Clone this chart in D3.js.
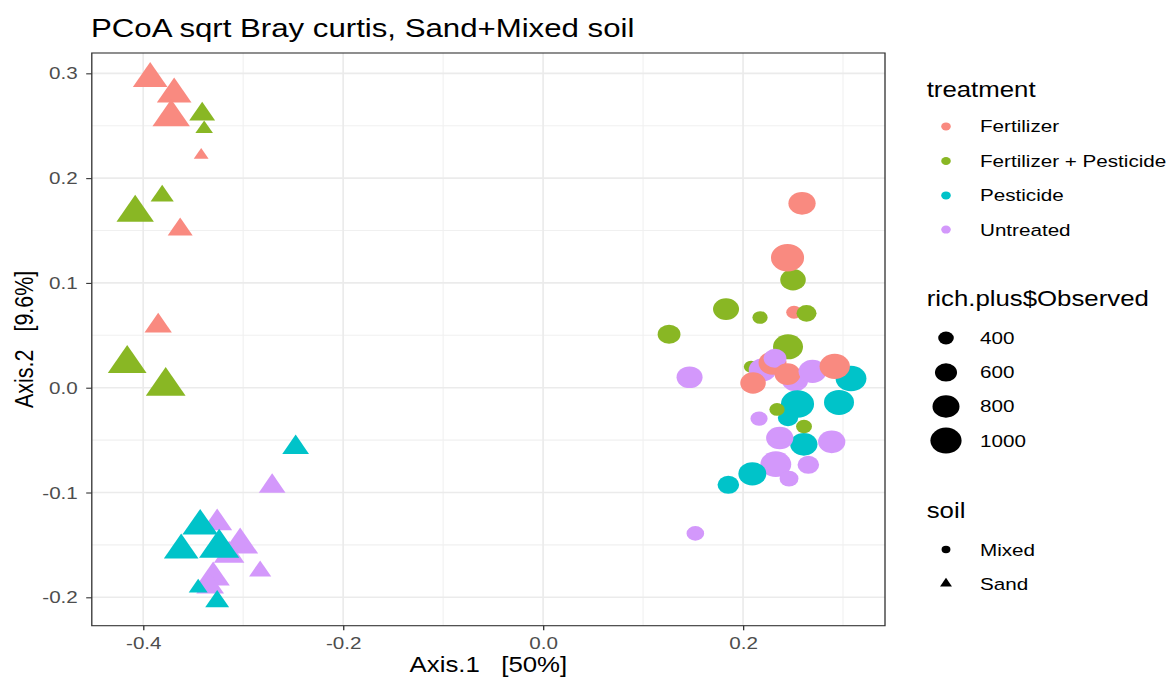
<!DOCTYPE html>
<html>
<head>
<meta charset="utf-8">
<script src="https://cdn.jsdelivr.net/npm/d3@7"></script>
<style>
  body { margin: 0; background: #fff; }
  text { font-family: "Liberation Sans", Arial, sans-serif; }
</style>
</head>
<body>
<svg id="chart" width="1172" height="680"></svg>
<script>
// legend categories and colours
const treatments = ["Fertilizer", "Fertilizer + Pesticide", "Pesticide", "Untreated"];
const treatmentColors = ["#F98A80", "#89B724", "#00C3C9", "#D398FB"];
const soils = ["Mixed", "Sand"];
const sizeBreaks = [400, 600, 800, 1000];

// tick labels
const xTicks = [-0.4, -0.2, 0.0, 0.2];
const yTicks = [0.3, 0.2, 0.1, 0.0, -0.1, -0.2];
const xMinor = [-0.3, -0.1, 0.1, 0.3];
const yMinor = [0.25, 0.15, 0.05, -0.05, -0.15];

// samples, in drawing order (treatment = index into treatments, soil = index into soils)
const axis1 = [
  -0.393, -0.369, -0.372, -0.341, -0.339, -0.342, -0.381, -0.408, -0.363, -0.385, -0.416, -0.3775,
  -0.271, -0.326, -0.303, -0.314, -0.330, -0.333, -0.283,
  -0.2475, -0.343, -0.362, -0.324, -0.345, -0.326,
  0.259, 0.250, 0.2445, 0.183, 0.217, 0.251, 0.2635, 0.126, 0.245, 0.1465, 0.208,
  0.2195, 0.210, 0.2295, 0.232, 0.252, 0.2445, 0.2695, 0.308, 0.2917, 0.296, 0.2545,
  0.245, 0.234, 0.216, 0.2608, 0.261, 0.2367, 0.2887, 0.2328, 0.2093, 0.2653, 0.246,
  0.1853, 0.1523
];
const axis2 = [
  0.295, 0.280, 0.258, 0.261, 0.247, 0.222, 0.183, 0.167, 0.151, 0.059, 0.023, 0.0014,
  -0.094, -0.129, -0.150, -0.160, -0.181, -0.190, -0.175,
  -0.057, -0.132, -0.155, -0.153, -0.191, -0.204,
  0.176, 0.103, 0.124, 0.075, 0.067, 0.072, 0.071, 0.051, 0.039, 0.010, 0.020,
  0.017, 0.0045, 0.0235, 0.028, 0.007, 0.013, 0.0156, 0.0088, 0.0204, -0.014, -0.0155,
  -0.0287, -0.0207, -0.0295, -0.054, -0.037, -0.048, -0.0516, -0.073, -0.0822, -0.0736, -0.0868,
  -0.0927, -0.139
];
const observed = [
  744, 744, 834, 504, 340, 300, 443, 834, 482, 538, 882, 917,
  524, 610, 788, 621, 701, 548, 423,
  524, 775, 744, 932, 363, 460,
  810, 737, 1100, 757, 391, 400, 530, 627, 940, 757, 370,
  826, 737, 842, 627, 757, 757, 842, 981, 957, 940, 1100,
  542, 391, 442, 810, 409, 810, 810, 981, 842, 583, 492,
  583, 456
];
const treatment = [
  0, 0, 0, 1, 1, 0, 1, 1, 0, 0, 1, 1,
  3, 3, 3, 3, 3, 3, 3,
  2, 2, 2, 2, 2, 2,
  0, 1, 0, 1, 1, 0, 1, 1, 1, 3, 1,
  3, 0, 0, 3, 3, 0, 3, 2, 0, 2, 2,
  2, 1, 3, 2, 1, 3, 3, 3, 2, 3, 3,
  2, 3
];
const soil = [
  1, 1, 1, 1, 1, 1, 1, 1, 1, 1, 1, 1,
  1, 1, 1, 1, 1, 1, 1,
  1, 1, 1, 1, 1, 1,
  0, 0, 0, 0, 0, 0, 0, 0, 0, 0, 0,
  0, 0, 0, 0, 0, 0, 0, 0, 0, 0, 0,
  0, 0, 0, 0, 0, 0, 0, 0, 0, 0, 0,
  0, 0
];

// the reference is a ggplot render stretched sideways, so draw everything inside a scaled group
const SX = 1.2;
const px = (v) => v / SX;

const svg = d3.select("#chart");
const root = svg.append("g").attr("transform", `scale(${SX},1)`);

const x = d3.scaleLinear().domain([-0.4514, 0.342]).range([px(91.8), px(885)]);
const y = d3.scaleLinear().domain([0.3194, -0.2271]).range([53, 625.7]);
const [x0, x1] = x.range();
const [y0, y1] = y.range();

// size scale: squared diameter grows linearly with Observed
const diam2 = d3.scaleLinear().domain([200, 1000]).range([0, 676]);
const symbolArea = (v) => (Math.PI / 4) * diam2(v);

// grid
const grid = root.append("g");
grid.selectAll(".vminor").data(xMinor).join("line")
  .attr("x1", (d) => x(d)).attr("x2", (d) => x(d))
  .attr("y1", y0).attr("y2", y1)
  .attr("stroke", "#f0f0f0").attr("stroke-width", 0.9);
grid.selectAll(".hminor").data(yMinor).join("line")
  .attr("x1", x0).attr("x2", x1)
  .attr("y1", (d) => y(d)).attr("y2", (d) => y(d))
  .attr("stroke", "#f0f0f0").attr("stroke-width", 1.1);
grid.selectAll(".vmajor").data(xTicks).join("line")
  .attr("x1", (d) => x(d)).attr("x2", (d) => x(d))
  .attr("y1", y0).attr("y2", y1)
  .attr("stroke", "#ebebeb").attr("stroke-width", 1.4);
grid.selectAll(".hmajor").data(yTicks).join("line")
  .attr("x1", x0).attr("x2", x1)
  .attr("y1", (d) => y(d)).attr("y2", (d) => y(d))
  .attr("stroke", "#ebebeb").attr("stroke-width", 1.6);

// points
const samples = axis1.map((a, i) => ({
  a: a, b: axis2[i], obs: observed[i], t: treatment[i], s: soil[i]
}));

root.append("clipPath").attr("id", "panel")
  .append("rect").attr("x", x0).attr("y", y0)
  .attr("width", x1 - x0).attr("height", y1 - y0);

root.append("g").attr("clip-path", "url(#panel)")
  .selectAll("path").data(samples).join("path")
  .attr("d", (d) => d3.symbol(d.s === 1 ? d3.symbolTriangle : d3.symbolCircle, symbolArea(d.obs))())
  .attr("transform", (d) => `translate(${x(d.a)},${y(d.b)})`)
  .attr("fill", (d) => treatmentColors[d.t]);

// panel border
root.append("rect")
  .attr("x", x0).attr("y", y0)
  .attr("width", x1 - x0).attr("height", y1 - y0)
  .attr("fill", "none").attr("stroke", "#333").attr("stroke-width", 1.1);

// axes
const fmt = (d) => d.toFixed(1);
const xAxis = root.append("g")
  .attr("transform", `translate(0,${y1})`)
  .call(d3.axisBottom(x).tickValues(xTicks).tickFormat(fmt).tickSize(4.6).tickPadding(6));
const yAxis = root.append("g")
  .attr("transform", `translate(${x0},0)`)
  .call(d3.axisLeft(y).tickValues(yTicks).tickFormat(fmt).tickSize(px(5.6)).tickPadding(7));

[xAxis, yAxis].forEach((ax) => {
  ax.select(".domain").remove();
  ax.selectAll(".tick line").attr("stroke", "#333").attr("stroke-width", 1.1);
  ax.selectAll(".tick text")
    .attr("fill", "#4d4d4d")
    .attr("font-size", 17.2)
    .attr("font-family", "'Liberation Sans', Arial, sans-serif");
});

// titles
root.append("text")
  .attr("x", px(91)).attr("y", 37)
  .attr("font-size", 26).attr("fill", "#000")
  .text("PCoA sqrt Bray curtis, Sand+Mixed soil");

root.append("text")
  .attr("x", (x0 + x1) / 2).attr("y", 672)
  .attr("text-anchor", "middle")
  .attr("font-size", 21.5).attr("fill", "#000")
  .style("white-space", "pre")
  .text("Axis.1   [50%]");

root.append("text")
  .attr("transform", `translate(${px(33)},${(y0 + y1) / 2}) rotate(-90)`)
  .attr("text-anchor", "middle")
  .attr("font-size", 21.5).attr("fill", "#000")
  .style("white-space", "pre")
  .text("Axis.2   [9.6%]");

// legends
const legTitleX = px(926.7);
const legKeyX = px(946);
const legLabelX = px(980);

function legendTitle(text, baseline) {
  root.append("text")
    .attr("x", legTitleX).attr("y", baseline)
    .attr("font-size", 21.5).attr("fill", "#000")
    .text(text);
}

function legendLabel(text, cy) {
  root.append("text")
    .attr("x", legLabelX).attr("y", cy).attr("dy", "0.35em")
    .attr("font-size", 17.2).attr("fill", "#000")
    .text(text);
}

// treatment
legendTitle("treatment", 96.7);
const treatRows = [126.4, 161, 195.4, 229.6];
treatments.forEach((t, i) => {
  root.append("path")
    .attr("d", d3.symbol(d3.symbolCircle, Math.PI * 4 * 4)())
    .attr("transform", `translate(${legKeyX},${treatRows[i]})`)
    .attr("fill", treatmentColors[i]);
  legendLabel(t, treatRows[i]);
});

// size
legendTitle("rich.plus$Observed", 306.5);
const sizeRows = [338, 372.4, 406.4, 440.6];
sizeBreaks.forEach((v, i) => {
  root.append("path")
    .attr("d", d3.symbol(d3.symbolCircle, symbolArea(v))())
    .attr("transform", `translate(${legKeyX},${sizeRows[i]})`)
    .attr("fill", "#000");
  legendLabel(String(v), sizeRows[i]);
});

// soil
legendTitle("soil", 518);
const soilRows = [549.5, 583.6];
soils.forEach((s, i) => {
  root.append("path")
    .attr("d", d3.symbol(i === 1 ? d3.symbolTriangle : d3.symbolCircle, Math.PI * 3.7 * 3.7)())
    .attr("transform", `translate(${legKeyX},${soilRows[i]})`)
    .attr("fill", "#000");
  legendLabel(s, soilRows[i]);
});
</script>
</body>
</html>
